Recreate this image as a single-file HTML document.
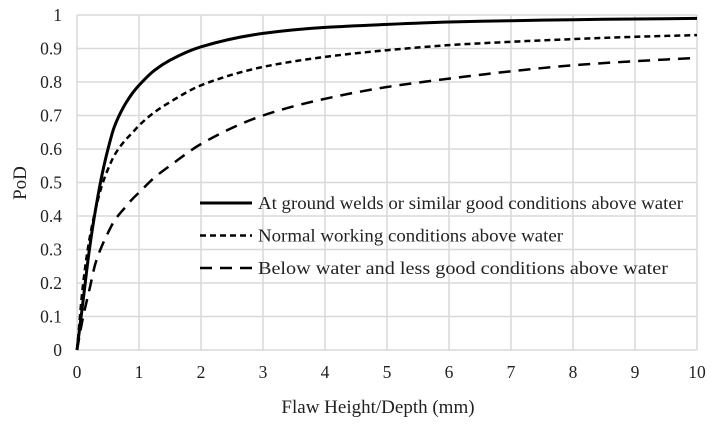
<!DOCTYPE html>
<html><head><meta charset="utf-8"><style>
body{margin:0;background:#fff;}
svg text{font-family:"Liberation Serif",serif;fill:#222;}
</style></head><body>
<svg id="chart" width="717" height="421"></svg>
<script>
const xTicks=[0,1,2,3,4,5,6,7,8,9,10];
const yTicks=[0,0.1,0.2,0.3,0.4,0.5,0.6,0.7,0.8,0.9,1];
const yTickLabels=["0","0.1","0.2","0.3","0.4","0.5","0.6","0.7","0.8","0.9","1"];
const xs=[0,0.1,0.2,0.3,0.4,0.5,0.6,0.75,0.9,1,1.25,1.5,2,3,4,5,6,7,8,9,10];
const goodVals=[0,0.15,0.3,0.42,0.52,0.6,0.665,0.725,0.768,0.79,0.835,0.865,0.905,0.945,0.963,0.972,0.979,0.983,0.986,0.988,0.99];
const normalVals=[0,0.2,0.33,0.42,0.49,0.54,0.58,0.62,0.65,0.67,0.71,0.74,0.79,0.845,0.875,0.895,0.91,0.92,0.928,0.935,0.94];
const belowVals=[0,0.1,0.18,0.26,0.31,0.35,0.385,0.42,0.452,0.47,0.515,0.55,0.615,0.7,0.75,0.785,0.81,0.832,0.85,0.862,0.872];
const seriesNames=["At ground welds or similar good conditions above water","Normal working conditions above water","Below water and less good conditions above water"];
const legendLengths=[425,305,410];
const NS="http://www.w3.org/2000/svg";
const svg=document.getElementById('chart');
const X0=77,X1=697,Y0=350,Y1=15;
const sx=v=>X0+(v-0)/(10-0)*(X1-X0);
const sy=v=>Y0-(v-0)/(1-0)*(Y0-Y1);
function mk(t,a){const e=document.createElementNS(NS,t);for(const k in a)e.setAttribute(k,a[k]);svg.appendChild(e);return e;}
function monotone(pts){
 const n=pts.length,dx=[],m=[],t=[];
 for(let i=0;i<n-1;i++){dx[i]=pts[i+1][0]-pts[i][0];m[i]=(pts[i+1][1]-pts[i][1])/dx[i];}
 t[0]=m[0];t[n-1]=m[n-2];
 for(let i=1;i<n-1;i++){t[i]=(m[i-1]*m[i]<=0)?0:(dx[i-1]+dx[i])*3/((2*dx[i]+dx[i-1])/m[i-1]+(dx[i]+2*dx[i-1])/m[i]);}
 let d='M'+pts[0][0].toFixed(1)+','+pts[0][1].toFixed(1);
 for(let i=0;i<n-1;i++){
  const h=dx[i]/3;
  d+=' C'+(pts[i][0]+h).toFixed(1)+','+(pts[i][1]+t[i]*h).toFixed(1)+' '+(pts[i+1][0]-h).toFixed(1)+','+(pts[i+1][1]-t[i+1]*h).toFixed(1)+' '+pts[i+1][0].toFixed(1)+','+pts[i+1][1].toFixed(1);
 }
 return d;
}
xTicks.forEach((t,i)=>{
 const g=mk('line',{x1:sx(t),x2:sx(t),y1:Y1,y2:Y0,stroke:'#d9d9d9','stroke-width':1.5});
 
 
 const l=mk('text',{x:sx(t),y:Y0+28,'text-anchor':'middle','font-size':17.5});
 l.textContent=t;
 
 
});
yTicks.forEach((t,i)=>{
 const g=mk('line',{x1:X0,x2:X1,y1:sy(t),y2:sy(t),stroke:'#d9d9d9','stroke-width':1.5});
 
 
 const l=mk('text',{x:X0-15,y:sy(t)+6,'text-anchor':'end','font-size':17.5});
 l.textContent=yTickLabels[i];
 
 
});
const styles=[{d:'none',w:3},{d:'6,4',w:2.5},{d:'12,8',w:2.5}];
[goodVals,normalVals,belowVals].forEach((vals,s)=>{
 const pts=xs.map((x,i)=>[sx(x),sy(vals[i])]);
 const p=mk('path',{d:monotone(pts),fill:'none',stroke:'#000','stroke-width':styles[s].w,'stroke-dasharray':styles[s].d,'stroke-linejoin':'round'});
 
 
 const ly=203+s*32.5;
 const ll=mk('line',{x1:200,x2:252,y1:ly,y2:ly,stroke:'#000','stroke-width':styles[s].w,'stroke-dasharray':styles[s].d});
 
 
 const lt=mk('text',{x:258,y:ly+6,'font-size':17.5,textLength:legendLengths[s],lengthAdjust:'spacingAndGlyphs'});
 lt.textContent=seriesNames[s];
 
 
});
const xt=mk('text',{x:378,y:413,'text-anchor':'middle','font-size':19});
xt.textContent='Flaw Height/Depth (mm)';


const yt=mk('text',{x:0,y:0,'text-anchor':'middle','font-size':19,transform:'translate(26,183) rotate(-90)'});
yt.textContent='PoD';


</script>
</body></html>
